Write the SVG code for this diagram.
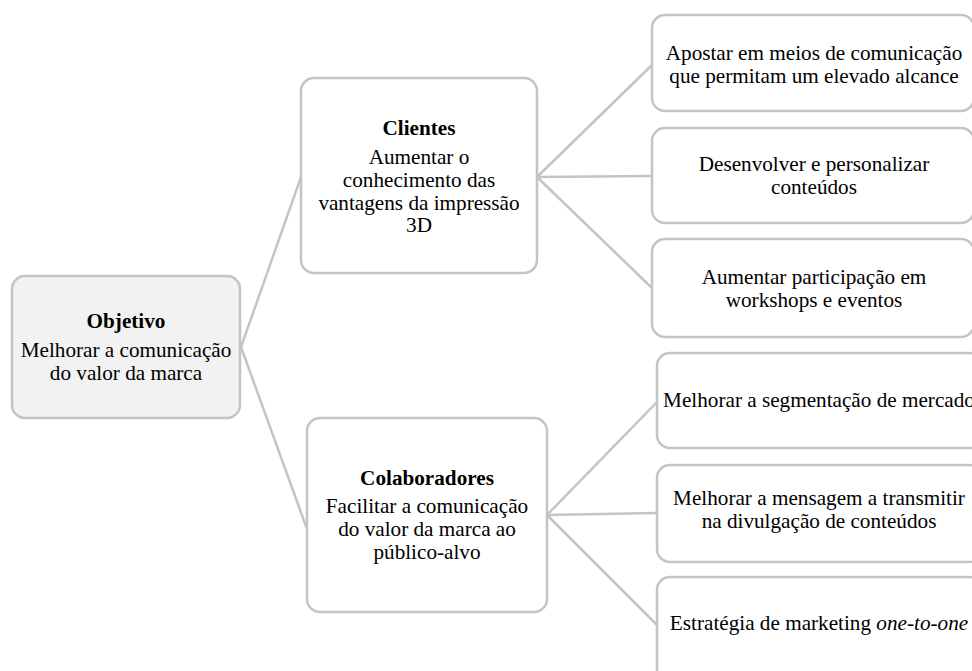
<svg xmlns="http://www.w3.org/2000/svg" width="972" height="671" viewBox="0 0 972 671">
<style>
.box{fill:#ffffff;stroke:#c4c4c4;stroke-width:2.5}
.root{fill:#f2f2f2;stroke:#c4c4c4;stroke-width:2.5}
.conn{stroke:#c4c4c4;stroke-width:2.5;fill:none}
text{font-family:"Liberation Serif","Times New Roman",serif;font-size:21.2px;fill:#000;text-anchor:middle}
.b{font-weight:bold}
</style>
<rect width="972" height="671" fill="#ffffff"/>
<g id="connectors">
<line class="conn" x1="241" y1="347" x2="301" y2="177"/>
<line class="conn" x1="241" y1="347" x2="307" y2="529"/>
<line class="conn" x1="537" y1="177" x2="652" y2="65"/>
<line class="conn" x1="537" y1="177" x2="652" y2="176"/>
<line class="conn" x1="537" y1="177" x2="652" y2="288"/>
<line class="conn" x1="547" y1="515" x2="657" y2="402"/>
<line class="conn" x1="547" y1="515" x2="657" y2="513"/>
<line class="conn" x1="547" y1="515" x2="657" y2="625"/>
</g>
<g id="objetivo">
<rect class="root" x="12" y="276" width="228" height="142" rx="13"/>
<text class="b" x="126" y="328">Objetivo</text>
<text x="126" y="357">Melhorar a comunicação</text>
<text x="126" y="380">do valor da marca</text>
</g>
<g id="clientes">
<rect class="box" x="301" y="78" width="236" height="195" rx="13"/>
<text class="b" x="419" y="135">Clientes</text>
<text x="419" y="164">Aumentar o</text>
<text x="419" y="187">conhecimento das</text>
<text x="419" y="210">vantagens da impressão</text>
<text x="419" y="232">3D</text>
</g>
<g id="colaboradores">
<rect class="box" x="307" y="418" width="240" height="194" rx="13"/>
<text class="b" x="427" y="485">Colaboradores</text>
<text x="427" y="513">Facilitar a comunicação</text>
<text x="427" y="536">do valor da marca ao</text>
<text x="427" y="559">público-alvo</text>
</g>
<g id="c1">
<rect class="box" x="652" y="15" width="322" height="96" rx="13"/>
<text x="814" y="60">Apostar em meios de comunicação</text>
<text x="814" y="83">que permitam um elevado alcance</text>
</g>
<g id="c2">
<rect class="box" x="652" y="128" width="322" height="95" rx="13"/>
<text x="814" y="171">Desenvolver e personalizar</text>
<text x="814" y="194">conteúdos</text>
</g>
<g id="c3">
<rect class="box" x="652" y="239" width="322" height="98" rx="13"/>
<text x="814" y="284">Aumentar participação em</text>
<text x="814" y="307">workshops e eventos</text>
</g>
<g id="k1">
<rect class="box" x="657" y="353" width="325" height="95" rx="13"/>
<text x="819" y="407">Melhorar a segmentação de mercado</text>
</g>
<g id="k2">
<rect class="box" x="657" y="465" width="325" height="97" rx="13"/>
<text x="819" y="505">Melhorar a mensagem a transmitir</text>
<text x="819" y="528">na divulgação de conteúdos</text>
</g>
<g id="k3">
<rect class="box" x="657" y="577" width="325" height="110" rx="13"/>
<text x="819" y="630">Estratégia de marketing <tspan font-style="italic">one-to-one</tspan></text>
</g>
</svg>
